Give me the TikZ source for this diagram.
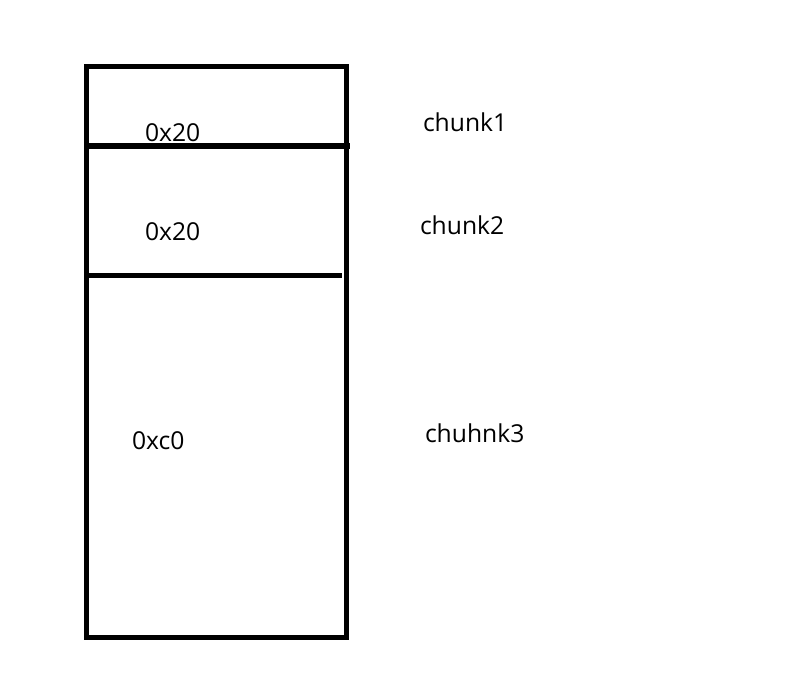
\documentclass[tikz,border=0pt]{standalone}
\usepackage{fontspec}
\setmainfont{Open Sans}
\usetikzlibrary{positioning}

\begin{document}
\begin{tikzpicture}[
    x=0.75pt, y=-0.75pt,
    font={\fontsize{18.5}{22}\selectfont},
    size/.style={anchor=base west,inner sep=0pt,outer sep=0pt},
    chunkname/.style={anchor=base west,inner sep=0pt,outer sep=0pt},
    wall/.style={line width=3.8pt,line cap=rect},
]
    \useasboundingbox (0,0) rectangle (795,693);

    % Box corners
    \coordinate (tl) at (86.5,66.5);
    \coordinate (tr) at (346.5,66.5);
    \coordinate (bl) at (86.5,637.5);
    \coordinate (br) at (346.5,637.5);
    \coordinate (s1l) at (86.5,146);
    \coordinate (s1r) at (350,146);
    \coordinate (s2l) at (86.5,275.5);
    \coordinate (s2r) at (342,275.5);

    % Box and separators
    \draw[wall] (tl) -- (tr) -- (br) -- (bl) -- cycle;
    \draw[wall,line cap=butt] (s1l) -- (s1r);
    \draw[wall,line cap=butt] (s2l) -- (s2r);

    % Sizes
    \node[size] (sz1) at (145,141) {0x20};
    \node[size] (sz2) at (145,240) {0x20};
    \node[size] (sz3) at (132,449) {0xc0};

    % Chunk names
    \node[chunkname] (c1) at (423,131) {chunk1};
    \node[chunkname] (c2) at (420,234) {chunk2};
    \node[chunkname] (c3) at (425,442) {chuhnk3};

\end{tikzpicture}
\end{document}
